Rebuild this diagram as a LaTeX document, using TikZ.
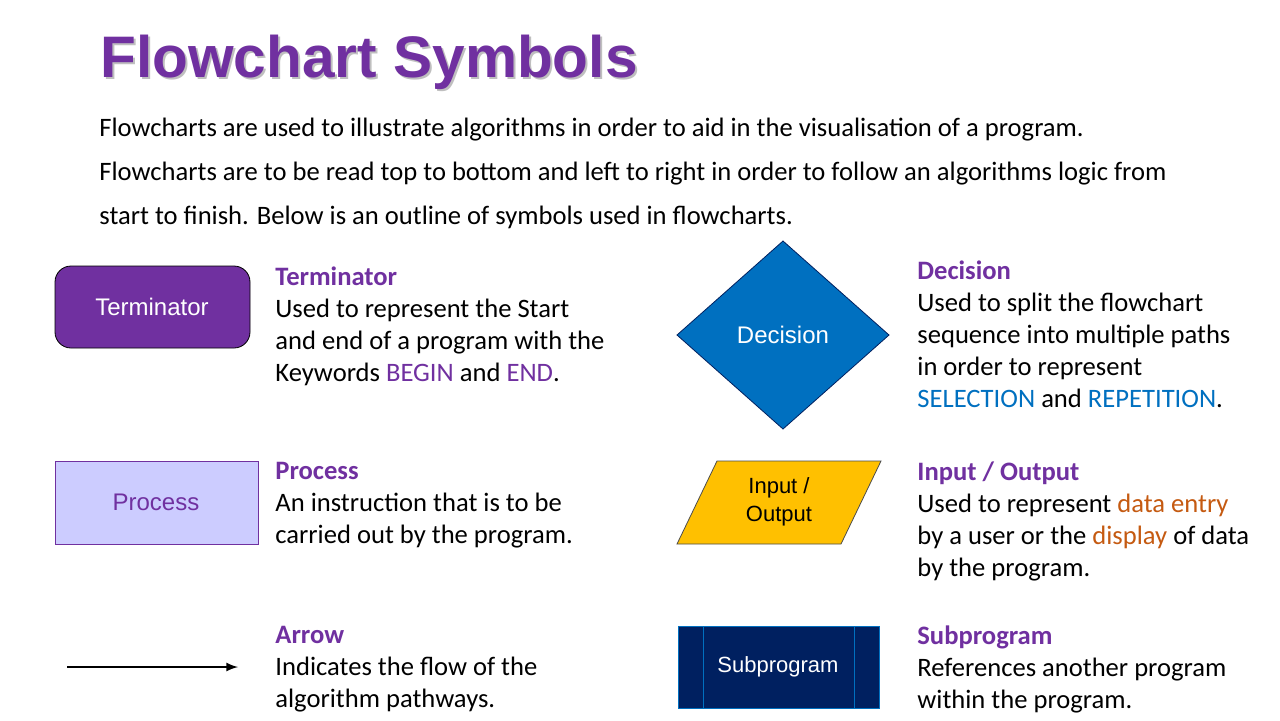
\documentclass[tikz,border=0pt]{standalone}
\usepackage{fontspec}
\setmainfont{Carlito}
\newfontfamily\arialf{Liberation Sans}
\usetikzlibrary{shapes.geometric}
\definecolor{purp}{HTML}{7030A0}
\definecolor{lav}{HTML}{CCCCFF}
\definecolor{blu}{HTML}{0070C0}
\definecolor{gold}{HTML}{FFC000}
\definecolor{navy}{HTML}{002060}
\definecolor{orng}{HTML}{C55A11}
\newcommand{\hd}[1]{\textcolor{purp}{\bfseries #1}}
\tikzset{
 body/.style={anchor=base west,align=left,font=\fontsize{13.3}{16}\selectfont,inner sep=0pt},
 lbl/.style={font=\arialf\fontsize{12}{14}\selectfont},
 slbl/.style={font=\arialf\fontsize{11}{14}\selectfont}
}
\begin{document}
\begin{tikzpicture}[x=0.5pt,y=-0.5pt]
\useasboundingbox[fill=white] (0,0) rectangle (1280,720);
\node[anchor=west,inner sep=0pt,font=\arialf\bfseries\fontsize{29.3}{34}\selectfont,text=gray!50] (tsh) at (102,64) {Flowchart Symbols};
\node[anchor=west,inner sep=0pt,font=\arialf\bfseries\fontsize{29.3}{34}\selectfont,text=purp] (title) at (100,62) {Flowchart Symbols};
\node[anchor=base west,inner sep=0pt,font=\fontsize{13.3}{22}\selectfont,align=left] (intro) at (99,224) {Flowcharts are used to illustrate algorithms in order to aid in the visualisation of a program.\\Flowcharts are to be read top to bottom and left to right in order to follow an algorithms logic from\\start to finish. Below is an outline of symbols used in flowcharts.};
% shapes
\draw[fill=purp,rounded corners=8pt] (55,266) rectangle (250,348);
\node[lbl,text=white] (term) at (152,307) {Terminator};
\draw[purp,fill=lav] (55,461) rectangle (258,544);
\node[lbl,text=purp] (proc) at (156,502) {Process};
\coordinate (a1) at (67,667); \coordinate (a2) at (238,667);
\draw[line width=1pt,-latex] (a1) -- (a2);
\draw[fill=blu,draw=navy] (783,241) -- (889,335) -- (783,429) -- (677,335) -- cycle;
\node[lbl,text=white] (dec) at (783,335) {Decision};
\draw[fill=gold,draw=black!70] (717,461) -- (881,461) -- (841,544) -- (677,544) -- cycle;
\node[slbl,align=center] (io) at (779,502) {Input /\\Output};
\draw[fill=navy,draw=blu] (678,626) rectangle (879,708);
\draw[blu] (703,626) -- (703,708) (854,626) -- (854,708);
\node[slbl,text=white] (sub) at (778,667) {Subprogram};
% texts
\node[body] (t1) at (275,381) {\hd{Terminator}\\Used to represent the Start\\and end of a program with the\\Keywords \textcolor{purp}{BEGIN} and \textcolor{purp}{END}.};
\node[body] (t2) at (275,543) {\hd{Process}\\An instruction that is to be\\carried out by the program.};
\node[body] (t3) at (275,707) {\hd{Arrow}\\Indicates the flow of the\\algorithm pathways.};
\node[body] (t4) at (917,407) {\hd{Decision}\\Used to split the flowchart\\sequence into multiple paths\\in order to represent\\\textcolor{blu}{SELECTION} and \textcolor{blu}{REPETITION}.};
\node[body] (t5) at (917,576) {\hd{Input / Output}\\Used to represent \textcolor{orng}{data entry}\\by a user or the \textcolor{orng}{display} of data\\by the program.};
\node[body] (t6) at (917,708) {\hd{Subprogram}\\References another program\\within the program.};
\end{tikzpicture}
\end{document}
